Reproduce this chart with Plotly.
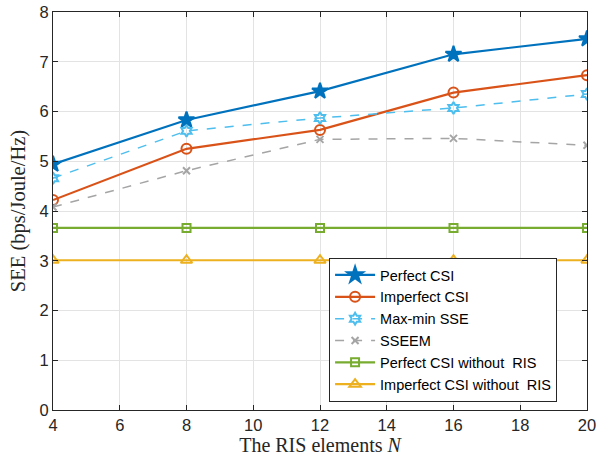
import plotly.graph_objects as go

N = [4, 8, 12, 16, 20]
perfect_csi = [4.94, 5.83, 6.41, 7.15, 7.46]
imperfect_csi = [4.22, 5.25, 5.63, 6.38, 6.73]
maxmin_sse = [4.66, 5.61, 5.87, 6.07, 6.35]
sseem = [4.08, 4.81, 5.44, 5.46, 5.32]
perfect_no_ris = [3.66, 3.66, 3.66, 3.66, 3.66]
imperfect_no_ris = [3.01, 3.01, 3.01, 3.01, 3.01]

series = [
    ("Perfect CSI", perfect_csi, "#0072BD", "solid", "star", 12),
    ("Imperfect CSI", imperfect_csi, "#D95319", "solid", "circle-open", 10),
    ("Max-min SSE", maxmin_sse, "#4DBEEE", "dash", "hexagram-open", 9),
    ("SSEEM", sseem, "#A5A5A5", "dash", "x-thin-open", 7),
    ("Perfect CSI without\u00a0 RIS", perfect_no_ris, "#77AC30", "solid", "square-open", 8),
    ("Imperfect CSI without\u00a0 RIS", imperfect_no_ris, "#EDB120", "solid", "triangle-up-open", 10),
]

fig = go.Figure()
for name, y, c, dash, sym, sz in series:
    fig.add_trace(go.Scatter(
        x=N, y=y, name=name, mode="lines+markers",
        line=dict(color=c, width=2.2 if dash == "solid" else 1.5, dash=dash),
        marker=dict(symbol=sym, size=sz, color=c, line=dict(color=c, width=2)),
    ))

axis_common = dict(
    showline=True, linecolor="#262626", linewidth=1, mirror="ticks",
    ticks="inside", ticklen=5, tickcolor="#262626",
    showgrid=True, gridcolor="#E3E3E3", gridwidth=1, zeroline=False,
    tickfont=dict(family="Liberation Sans, Arial", size=16.5, color="#262626"),
)

fig.update_layout(
    width=597, height=460,
    margin=dict(l=53, r=10, t=12, b=50, autoexpand=False),
    paper_bgcolor="white", plot_bgcolor="white",
    xaxis=dict(range=[4, 20], tickvals=[4, 6, 8, 10, 12, 14, 16, 18, 20],
               title=dict(text="The RIS elements <i>N</i>", standoff=4,
                          font=dict(family="Liberation Serif, Times New Roman", size=20, color="#262626")),
               automargin=False, **axis_common),
    yaxis=dict(range=[0, 8], tickvals=list(range(0, 9)),
               title=dict(text="SEE (bps/Joule/Hz)", standoff=8,
                          font=dict(family="Liberation Serif, Times New Roman", size=20.5, color="#262626")),
               automargin=False, **axis_common),
    legend=dict(x=0.517, y=0.02, xanchor="left", yanchor="bottom",
                bgcolor="white", bordercolor="#262626", borderwidth=1,
                font=dict(family="Liberation Sans, Arial", size=14.5, color="#000"),
                tracegroupgap=0, itemwidth=40),
    showlegend=True,
)

fig.write_html("out.html", config={"displayModeBar": False},
               post_script="document.body.style.margin='0';document.body.style.overflow='hidden';")
